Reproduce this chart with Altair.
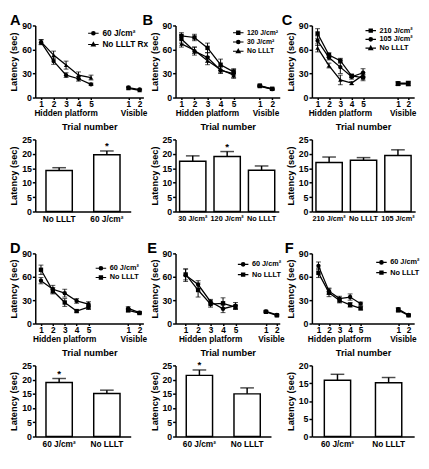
import altair as alt
import pandas as pd

FONT = "Liberation Sans"

# ---------------- data ----------------
HIDDEN_TRIALS = [1, 2, 3, 4, 5]
VISIBLE_TRIALS = [1, 2]

# Panel A
A_series = ["60 J/cm²", "No LLLT Rx"]
A_hidden = [[69, 45.5, 28, 23.5, 16.5], [69.5, 53, 40.5, 28, 25]]
A_hidden_err = [[3, 4, 3, 3, 1.5], [3, 5, 5, 4, 3]]
A_visible = [[12.5, 10], [11.5, 9]]
A_visible_err = [[1.5, 1], [1.2, 1]]
A_bar_groups = ["No LLLT", "60 J/cm²"]
A_bar_mean = [14.2, 19.7]
A_bar_err = [1.0, 1.3]
A_bar_sig = ["", "*"]

# Panel B
B_series = ["120 J/cm²", "30 J/cm²", "No LLLT"]
B_hidden = [[77, 75, 62, 41, 32], [73, 58, 50, 34, 30], [67, 59, 46, 35, 28]]
B_hidden_err = [[4, 4, 6, 7, 4], [5, 5, 6, 4, 5], [4, 4, 5, 4, 4]]
B_visible = [[15, 11], [14.5, 10.5], [14, 10.5]]
B_visible_err = [[1, 1], [1, 1], [1, 1]]
B_bar_groups = ["30 J/cm²", "120 J/cm²", "No LLLT"]
B_bar_mean = [17.4, 19.1, 14.3]
B_bar_err = [1.9, 1.7, 1.5]
B_bar_sig = ["", "*", ""]

# Panel C
C_series = ["210 J/cm²", "105 J/cm²", "No LLLT"]
C_hidden = [[80, 53, 46, 27, 25], [71, 50, 38, 26, 31], [62, 40, 22, 18, 28]]
C_hidden_err = [[6, 3, 3, 2, 4], [6, 3, 8, 3, 5], [5, 3, 6, 2, 3]]
C_visible = [[17, 17.5], [18, 18], [17.5, 17]]
C_visible_err = [[2, 3], [2, 2], [2, 2]]
C_bar_groups = ["210 J/cm²", "No LLLT", "105 J/cm²"]
C_bar_mean = [17.0, 17.8, 19.4]
C_bar_err = [1.9, 0.9, 2.0]
C_bar_sig = ["", "", ""]

# Panel D
D_series = ["60 J/cm²", "No LLLT"]
D_hidden = [[55, 44, 39, 29, 25], [69, 42, 27, 16, 21]]
D_hidden_err = [[4, 5, 5, 3, 3], [6, 4, 5, 1.5, 3]]
D_visible = [[19.5, 14], [17, 13.5]]
D_visible_err = [[2, 1], [2, 1]]
D_bar_groups = ["60 J/cm²", "No LLLT"]
D_bar_mean = [19.0, 15.1]
D_bar_err = [1.4, 1.2]
D_bar_sig = ["*", ""]

# Panel E
E_series = ["60 J/cm²", "No LLLT"]
E_hidden = [[62, 50, 28, 19, 23], [63, 43, 25, 26, 21]]
E_hidden_err = [[8, 5, 3, 5, 4], [7, 9, 4, 7, 3]]
E_visible = [[15.5, 11], [15, 10.5]]
E_visible_err = [[1, 1], [1, 1]]
E_bar_groups = ["60 J/cm²", "No LLLT"]
E_bar_mean = [21.5, 15.0]
E_bar_err = [1.9, 2.1]
E_bar_sig = ["*", ""]

# Panel F
F_series = ["60 J/cm²", "No LLLT"]
F_hidden = [[74, 41.5, 32, 34, 25.5], [65, 39.5, 29.5, 24, 19.5]]
F_hidden_err = [[5, 4, 3, 4, 2], [6, 5, 3, 3, 2]]
F_visible = [[18.5, 11], [17, 10.5]]
F_visible_err = [[2, 1], [2, 1]]
F_bar_groups = ["60 J/cm²", "No LLLT"]
F_bar_mean = [15.8, 15.1]
F_bar_err = [1.7, 1.5]
F_bar_sig = ["", ""]

# ---------------- style / layout ----------------
# legend symbols: short line plus a marker (nested outlines so the stroked marker looks solid)
MARK_PATHS = {
    "circle": ("M0.6,0A0.6,0.6,0,1,1,-0.6,0A0.6,0.6,0,1,1,0.6,0Z"
               "M0.28,0A0.28,0.28,0,1,1,-0.28,0A0.28,0.28,0,1,1,0.28,0Z"),
    "square": "M-0.55,-0.55H0.55V0.55H-0.55ZM-0.25,-0.25H0.25V0.25H-0.25Z",
    "triangle-up": "M0,-0.7L0.65,0.5H-0.65ZM0,-0.3L0.3,0.25H-0.3Z",
}
LEG_LINE = "M-1.8,0H1.8"

ROW_H = [74, 74, 72, 73]


def line_panel(letter, series, hidden, hidden_err, visible, visible_err, markers, lay):
    rows = []
    for s, name in enumerate(series):
        for i, t in enumerate(HIDDEN_TRIALS):
            m, e = hidden[s][i], hidden_err[s][i]
            rows.append({"series": name, "key": name + "|h", "pos": t,
                         "mean": m, "lo": m - e, "hi": m + e})
        for i, t in enumerate(VISIBLE_TRIALS):
            m, e = visible[s][i], visible_err[s][i]
            rows.append({"series": name, "key": name + "|v", "pos": lay["vis"][i],
                         "mean": m, "lo": m - e, "hi": m + e})
    df = pd.DataFrame(rows)
    vis = lay["vis"]
    mid = (vis[0] + vis[1]) / 2
    xs = alt.Scale(domain=lay["xdom"], nice=False, zero=False)
    xa = alt.Axis(values=HIDDEN_TRIALS + vis,
                  labelExpr=f"datum.value < 6 ? format(datum.value, 'd') : (datum.value < {mid} ? '1' : '2')",
                  title="Trial number", titlePadding=14, tickSize=2, labelPadding=0, labelFontSize=8.5)
    X = alt.X("pos:Q", scale=xs, axis=xa)
    ys = alt.Scale(domain=[0, 90], nice=False)
    ya = alt.Axis(values=[0, 30, 60, 90], title="Latency (sec)")

    base = alt.Chart(df)
    rules = base.mark_rule(color="black", strokeWidth=1).encode(
        x=X, y=alt.Y("lo:Q", scale=ys, axis=ya), y2="hi:Q", detail="key:N")
    cap_lo = base.mark_tick(color="black", orient="horizontal", size=5, thickness=1).encode(
        x=X, y=alt.Y("lo:Q", scale=ys, axis=ya))
    cap_hi = base.mark_tick(color="black", orient="horizontal", size=5, thickness=1).encode(
        x=X, y=alt.Y("hi:Q", scale=ys, axis=ya))
    lines = base.mark_line(color="black", strokeWidth=1.3).encode(
        x=X, y=alt.Y("mean:Q", scale=ys, axis=ya), detail="key:N")
    points = base.mark_point(filled=True, color="black", size=20, opacity=1).encode(
        x=X, y=alt.Y("mean:Q", scale=ys, axis=ya),
        shape=alt.Shape("series:N", scale=alt.Scale(domain=series, range=markers), legend=None))

    # legend: line + marker symbols, drawn by an invisible layer carrying its own shape scale
    paths = [LEG_LINE + MARK_PATHS[m] for m in markers]
    lg = lay["legend"]
    legend = alt.Legend(
        title=None, orient="none",
        legendX=lg["x"] + 2.4, legendY=lg["y"] - lg["font"] / 2,
        labelFont=FONT, labelFontSize=lg["font"], labelFontWeight="bold", labelColor="black",
        symbolSize=36, symbolStrokeColor="black", symbolFillColor="black", symbolOpacity=1,
        symbolStrokeWidth=1.2, labelOffset=5, rowPadding=lg["gap"] - lg["font"], padding=0)
    legend_layer = base.mark_point(filled=False, color="black", size=16, opacity=0).encode(
        x=X, y=alt.Y("mean:Q", scale=ys, axis=ya),
        shape=alt.Shape("series:N", scale=alt.Scale(domain=series, range=paths), legend=legend))

    lab_df = pd.DataFrame({"pos": [3, mid], "text": ["Hidden platform", "Visible"]})
    labels = alt.Chart(lab_df).mark_text(font=FONT, fontSize=8.5, fontWeight="bold",
                                         baseline="middle", color="black").encode(
        x=X, y=alt.value(lay["h"] + 16), text="text:N")

    return alt.layer(rules, cap_lo, cap_hi, lines, points, legend_layer, labels).resolve_scale(
        shape="independent").properties(
        width=lay["w"], height=lay["h"],
        title=alt.TitleParams(letter, anchor="start", frame="group", dx=lay["ldx"], dy=7,
                              font=FONT, fontSize=15, fontWeight="bold", color="black", offset=0))


def bar_panel(groups, means, errs, sig, lay):
    df = pd.DataFrame({"group": groups, "mean": means,
                       "hi": [m + e for m, e in zip(means, errs)], "star": sig})
    X = alt.X("group:N", sort=groups, scale=alt.Scale(paddingInner=0, paddingOuter=0),
              axis=alt.Axis(title=None, labelAngle=0, ticks=False, labelPadding=3,
                            labelFontSize=lay.get("lfs", 8.5)))
    ys = alt.Scale(domain=[0, lay["ymax"]], nice=False)
    ya = alt.Axis(values=list(range(0, lay["ymax"] + 1, 5)), title="Latency (sec)")
    base = alt.Chart(df)
    bars = base.mark_bar(size=27, fill="white", stroke="black", strokeWidth=1.5).encode(
        x=X, y=alt.Y("mean:Q", scale=ys, axis=ya))
    err = base.mark_rule(color="black", strokeWidth=1.5).encode(
        x=X, y=alt.Y("mean:Q", scale=ys, axis=ya), y2="hi:Q")
    cap = base.mark_tick(color="black", orient="horizontal", size=14, thickness=1.5).encode(
        x=X, y=alt.Y("hi:Q", scale=ys, axis=ya))
    star = base.mark_text(font=FONT, fontSize=10, fontWeight="bold", color="black",
                          baseline="middle", dy=-5).encode(
        x=X, y=alt.Y("hi:Q", scale=ys, axis=ya), text="star:N")
    return alt.layer(bars, err, cap, star).properties(width=lay["w"], height=lay["h"])


A = line_panel("A", A_series, A_hidden, A_hidden_err, A_visible, A_visible_err,
               ["circle", "triangle-up"],
               {"w": 111, "h": ROW_H[0], "xdom": [0.53, 9.2], "vis": [8.0, 8.9], "ldx": -26,
                "legend": {"x": 53, "y": 8, "gap": 10, "font": 8.5}})
B = line_panel("B", B_series, B_hidden, B_hidden_err, B_visible, B_visible_err,
               ["square", "circle", "triangle-up"],
               {"w": 107, "h": ROW_H[0], "xdom": [0.55, 8.53], "vis": [7.0, 7.95], "ldx": -34,
                "legend": {"x": 58, "y": 7, "gap": 6.5, "font": 7}})
C = line_panel("C", C_series, C_hidden, C_hidden_err, C_visible, C_visible_err,
               ["square", "circle", "triangle-up"],
               {"w": 105, "h": ROW_H[0], "xdom": [0.5, 9.5], "vis": [8.08, 8.98], "ldx": -31,
                "legend": {"x": 54, "y": 5, "gap": 6.5, "font": 7.5}})
D = line_panel("D", D_series, D_hidden, D_hidden_err, D_visible, D_visible_err,
               ["circle", "square"],
               {"w": 111, "h": ROW_H[2], "xdom": [0.52, 9.62], "vis": [8.34, 9.29], "ldx": -26,
                "legend": {"x": 61, "y": 15, "gap": 7, "font": 7.5}})
E = line_panel("E", E_series, E_hidden, E_hidden_err, E_visible, E_visible_err,
               ["circle", "square"],
               {"w": 107, "h": ROW_H[2], "xdom": [0.19, 8.55], "vis": [7.44, 8.32], "ldx": -29,
                "legend": {"x": 63, "y": 11, "gap": 8, "font": 7.5}})
F = line_panel("F", F_series, F_hidden, F_hidden_err, F_visible, F_visible_err,
               ["circle", "square"],
               {"w": 105, "h": ROW_H[2], "xdom": [0.38, 10.07], "vis": [8.56, 9.54], "ldx": -28,
                "legend": {"x": 65, "y": 9, "gap": 8, "font": 7.5}})

Ab = bar_panel(A_bar_groups, A_bar_mean, A_bar_err, A_bar_sig, {"w": 98, "h": ROW_H[1], "ymax": 25})
Bb = bar_panel(B_bar_groups, B_bar_mean, B_bar_err, B_bar_sig,
               {"w": 106, "h": ROW_H[1], "ymax": 25, "lfs": 7.5})
Cb = bar_panel(C_bar_groups, C_bar_mean, C_bar_err, C_bar_sig,
               {"w": 106, "h": ROW_H[1], "ymax": 25, "lfs": 7.5})
Db = bar_panel(D_bar_groups, D_bar_mean, D_bar_err, D_bar_sig, {"w": 98, "h": ROW_H[3], "ymax": 25})
Eb = bar_panel(E_bar_groups, E_bar_mean, E_bar_err, E_bar_sig, {"w": 98, "h": ROW_H[3], "ymax": 25})
Fb = bar_panel(F_bar_groups, F_bar_mean, F_bar_err, F_bar_sig, {"w": 105, "h": ROW_H[3], "ymax": 20})

chart = alt.concat(
    A, B, C, Ab, Bb, Cb, D, E, F, Db, Eb, Fb,
    columns=3, spacing={"row": 43, "column": 33}, bounds="flush", align="each", padding=0,
).configure_view(strokeWidth=0).configure_axis(
    domainColor="black", domainWidth=1.5, tickColor="black", tickWidth=1.5, tickSize=3,
    labelFont=FONT, labelFontSize=9, labelFontWeight="bold", labelColor="black", labelPadding=1,
    titleFont=FONT, titleFontSize=9.5, titleFontWeight="bold", titleColor="black", grid=False,
).configure_axisY(titlePadding=3)

chart.save("out.html", embed_options={"renderer": "svg", "actions": False})
